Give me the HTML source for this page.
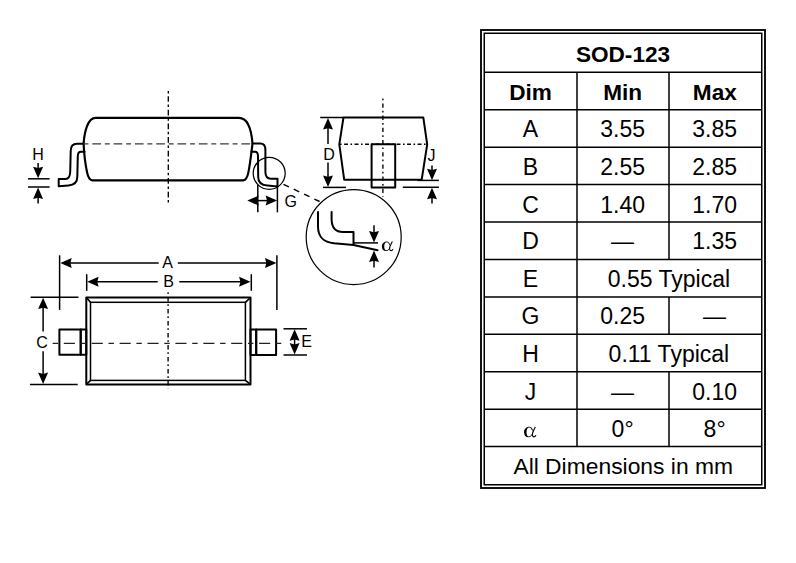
<!DOCTYPE html>
<html><head><meta charset="utf-8"><style>
html,body{margin:0;padding:0;background:#fff;width:796px;height:563px;overflow:hidden}
svg{display:block}
.tl{stroke:#000;stroke-width:1.5}
.s2{fill:none;stroke:#000;stroke-width:2;stroke-linejoin:round;stroke-linecap:round}
.s13{fill:none;stroke:#000;stroke-width:1.5}
.s12{fill:none;stroke:#000;stroke-width:1.2}
.ah{fill:#000;stroke:none}
.cl1{stroke:#3a3a3a;stroke-width:1.3;stroke-dasharray:4.9 3.85 8.7 3.85}
.cl1b{stroke:#222;stroke-width:1.3;stroke-dasharray:5.4 5.7 11.1 5.7}
.cl2{stroke:#000;stroke-width:1.35;stroke-dasharray:2.5 2.75 5.7 2.7}
.cl4{stroke:#000;stroke-width:1.35;stroke-dasharray:1.7 3.1 4.3 3.1}
.cl5{stroke:#000;stroke-width:1.35;stroke-dasharray:1.9 2.9 4.4 2.8}
.cl3{stroke:#000;stroke-width:1.35;stroke-dasharray:1.6 2.5 3.9 2.5}
.dl{stroke:#000;stroke-width:1.4;stroke-dasharray:6 5.4}
text{font-family:"Liberation Sans",sans-serif;fill:#000;text-anchor:middle}
.th{font-size:22.6px;font-weight:bold}
.tb{font-size:23px}
.ta{font-family:"Liberation Serif",serif;font-size:25px}
.lb{font-size:16px}
.la{font-family:"Liberation Serif",serif;font-size:19px}
</style></head><body>
<svg width="796" height="563" viewBox="0 0 796 563">
<rect x="481" y="30" width="284" height="458" fill="none" stroke="#000" stroke-width="1.85"/>
<rect x="484.25" y="33.25" width="277.5" height="451.5" fill="none" stroke="#000" stroke-width="1.5"/>
<line x1="484" x2="762" y1="72.30" y2="72.30" class="tl"/>
<line x1="484" x2="762" y1="109.73" y2="109.73" class="tl"/>
<line x1="484" x2="762" y1="147.16" y2="147.16" class="tl"/>
<line x1="484" x2="762" y1="184.59" y2="184.59" class="tl"/>
<line x1="484" x2="762" y1="222.02" y2="222.02" class="tl"/>
<line x1="484" x2="762" y1="259.45" y2="259.45" class="tl"/>
<line x1="484" x2="762" y1="296.88" y2="296.88" class="tl"/>
<line x1="484" x2="762" y1="334.31" y2="334.31" class="tl"/>
<line x1="484" x2="762" y1="371.74" y2="371.74" class="tl"/>
<line x1="484" x2="762" y1="409.17" y2="409.17" class="tl"/>
<line x1="484" x2="762" y1="446.60" y2="446.60" class="tl"/>
<line x1="577" x2="577" y1="72.30" y2="446.60" class="tl"/>
<line x1="669" x2="669" y1="72.30" y2="259.45" class="tl"/>
<line x1="669" x2="669" y1="296.88" y2="334.31" class="tl"/>
<line x1="669" x2="669" y1="371.74" y2="446.60" class="tl"/>
<text x="623.00" y="62.10" class="th">SOD-123</text>
<text x="530.50" y="100.01" class="th">Dim</text>
<text x="622.60" y="100.01" class="th">Min</text>
<text x="714.80" y="100.01" class="th">Max</text>
<text transform="translate(530.50 137.34) scale(1 1.000)" class="tb">A</text>
<text transform="translate(622.60 137.34) scale(1 1.000)" class="tb">3.55</text>
<text transform="translate(714.60 137.34) scale(1 1.000)" class="tb">3.85</text>
<text transform="translate(530.50 175.28) scale(1 1.000)" class="tb">B</text>
<text transform="translate(622.60 175.28) scale(1 1.000)" class="tb">2.55</text>
<text transform="translate(714.60 175.28) scale(1 1.000)" class="tb">2.85</text>
<text transform="translate(530.50 212.60) scale(1 1.000)" class="tb">C</text>
<text transform="translate(622.60 212.60) scale(1 1.000)" class="tb">1.40</text>
<text transform="translate(714.60 212.60) scale(1 1.000)" class="tb">1.70</text>
<text transform="translate(530.50 248.83) scale(1 1.000)" class="tb">D</text>
<text transform="translate(622.60 248.83) scale(1 1.000)" class="tb">&#8212;</text>
<text transform="translate(714.60 248.83) scale(1 1.000)" class="tb">1.35</text>
<text transform="translate(530.50 287.06) scale(1 1.000)" class="tb">E</text>
<text transform="translate(668.90 287.06) scale(1 1.000)" class="tb">0.55 Typical</text>
<text transform="translate(530.50 324.10) scale(1 1.000)" class="tb">G</text>
<text transform="translate(622.60 324.10) scale(1 1.000)" class="tb">0.25</text>
<text transform="translate(714.60 324.10) scale(1 1.000)" class="tb">&#8212;</text>
<text transform="translate(530.50 361.92) scale(1 1.000)" class="tb">H</text>
<text transform="translate(668.90 361.92) scale(1 1.000)" class="tb">0.11 Typical</text>
<text transform="translate(530.50 399.66) scale(1 1.000)" class="tb">J</text>
<text transform="translate(622.60 399.66) scale(1 1.000)" class="tb">&#8212;</text>
<text transform="translate(714.60 399.66) scale(1 1.000)" class="tb">0.10</text>
<g transform="translate(523.80 426.30) scale(0.1050)"><path fill="#000" fill-rule="evenodd" d="M52 4 C22 4 2 28 2 56 C2 86 20 104 44 104 C62 104 76 92 86 74 L84 54 C78 78 66 96 48 96 C34 96 26 80 26 56 C26 30 36 12 52 12 C66 12 76 30 82 48 L86 34 C78 16 68 4 52 4 Z"/><path fill="none" stroke="#000" stroke-width="11" d="M110 6 C96 32 84 56 82 74 C80 92 88 100 98 100 C106 100 112 94 116 86"/></g>
<text transform="translate(622.60 436.78) scale(1 1.000)" class="tb">0&#176;</text>
<text transform="translate(714.60 436.78) scale(1 1.000)" class="tb">8&#176;</text>
<text x="623.2" y="474.0" class="tb" style="font-size:22.85px">All Dimensions in mm</text>
<path class="s2" style="stroke-width:2.15" d="M95.5 117.85 L239 117.85 C248 117.85 251.5 131 252.5 143.6 C251 156 249.5 168 248 174 C247 178 246 180.3 243 180.3 L92.4 180.3 C89.5 180.3 88 177 87 172 C85.5 165 84 152 83.6 143.6 C84.5 131 88 117.85 95.5 117.85 Z"/>
<path class="s2" d="M83.8 143.75 L77 143.75 C72.5 143.75 70.7 146.8 70.7 151 L70.2 172 C70 176.5 68.5 178.9 65.5 178.9 L58.7 178.9 L58.7 186.2 L68.5 185.5 C74 185 77.3 183 77.3 177 L77.8 156 C77.9 153 79 151.7 81 151.7 L84.6 151.7"/>
<path class="s2" d="M252.6 143.6 L260.2 143.6 C264 143.6 265.4 146.5 265.4 150 L265.4 172 C265.5 176.5 267.3 178.7 270.8 178.7 L277.5 178.7 L277.5 186.4 L267.5 185.6 C261.8 185.2 258.2 183 258.2 177 L258 156 C257.9 153 257 151.8 255 151.8 L251.4 151.8"/>
<line class="cl1" x1="83.55" x2="252" y1="143.8" y2="143.8"/>
<line class="cl2" x1="168.3" x2="168.3" y1="90.9" y2="202.6"/>
<line class="s13" x1="28" x2="49.6" y1="178.8" y2="178.8"/>
<line class="s13" x1="28" x2="49.6" y1="187" y2="187"/>
<line class="s13" x1="38.1" x2="38.1" y1="163" y2="170"/>
<path class="ah" d="M38.10 178.20 L33.10 166.80 L38.10 168.10 L43.10 166.80 Z"/>
<line class="s13" x1="38.1" x2="38.1" y1="196" y2="203.6"/>
<path class="ah" d="M38.10 187.60 L33.10 199.00 L38.10 197.70 L43.10 199.00 Z"/>
<text x="38.05" y="159.50" class="lb">H</text>
<circle class="s12" cx="269.2" cy="173.3" r="16"/>
<line class="s13" x1="257.8" x2="257.8" y1="184.5" y2="212.3"/>
<line class="s13" x1="277.4" x2="277.4" y1="186" y2="212.3"/>
<line class="s13" x1="257.8" x2="270" y1="200.6" y2="200.6"/>
<path class="ah" d="M247.30 200.60 L258.70 195.60 L257.40 200.60 L258.70 205.60 Z"/>
<path class="ah" d="M277.10 200.60 L265.70 195.60 L267.00 200.60 L265.70 205.60 Z"/>
<text x="290.80" y="206.70" class="lb">G</text>
<line class="dl" x1="283.5" x2="319.6" y1="184.3" y2="201.5"/>
<path class="s2" d="M343.5 117.4 L423.3 117.4 L427.2 144.3 L421.7 179.7 L344.2 179.7 L339.3 144.3 Z"/>
<rect class="s2" x="371.6" y="144.3" width="23.6" height="43.1"/>
<line class="cl3" x1="340.0" x2="427" y1="144.2" y2="144.2"/>
<line class="cl4" x1="382.9" x2="382.9" y1="98.6" y2="197"/>
<line class="s13" x1="320.2" x2="343" y1="117.5" y2="117.5"/>
<line class="s13" x1="323" x2="346" y1="187.4" y2="187.4"/>
<line class="s13" x1="328" x2="328" y1="126" y2="144"/>
<line class="s13" x1="328" x2="328" y1="162.5" y2="178"/>
<path class="ah" d="M328.00 118.10 L323.00 129.50 L328.00 128.20 L333.00 129.50 Z"/>
<path class="ah" d="M328.00 186.90 L323.00 175.50 L328.00 176.80 L333.00 175.50 Z"/>
<text x="329.00" y="159.60" class="lb">D</text>
<line class="s13" x1="417.4" x2="438.9" y1="180.4" y2="180.4"/>
<line class="s13" x1="402.8" x2="438.9" y1="187.3" y2="187.3"/>
<line class="s13" x1="432" x2="432" y1="165.4" y2="172"/>
<path class="ah" d="M432.00 180.20 L427.00 168.80 L432.00 170.10 L437.00 168.80 Z"/>
<line class="s13" x1="432" x2="432" y1="196" y2="203.5"/>
<path class="ah" d="M432.00 187.80 L427.00 199.20 L432.00 197.90 L437.00 199.20 Z"/>
<text x="431.60" y="160.60" class="lb">J</text>
<circle class="s12" cx="353.7" cy="237.1" r="47.5"/>
<path class="s2" d="M318 212.1 L318 227 C318.3 237.5 323.5 242 334 243.3 L353.5 245 L377.6 250.2"/>
<path class="s2" d="M331.6 212.1 L331.6 219.5 C331.8 227.5 335.5 232 343 232 L353.5 232 L353.5 245"/>
<line class="s13" x1="353.5" x2="378" y1="242.9" y2="242.9"/>
<line class="s13" x1="374" x2="374" y1="225.3" y2="234"/>
<path class="ah" d="M374.00 242.40 L369.00 231.00 L374.00 232.30 L379.00 231.00 Z"/>
<line class="s13" x1="374" x2="374" y1="259" y2="267.5"/>
<path class="ah" d="M374.00 250.60 L369.00 262.00 L374.00 260.70 L379.00 262.00 Z"/>
<g transform="translate(381.70 241.00) scale(0.0970)"><path fill="#000" fill-rule="evenodd" d="M52 4 C22 4 2 28 2 56 C2 86 20 104 44 104 C62 104 76 92 86 74 L84 54 C78 78 66 96 48 96 C34 96 26 80 26 56 C26 30 36 12 52 12 C66 12 76 30 82 48 L86 34 C78 16 68 4 52 4 Z"/><path fill="none" stroke="#000" stroke-width="11" d="M110 6 C96 32 84 56 82 74 C80 92 88 100 98 100 C106 100 112 94 116 86"/></g>
<rect class="s2" x="86.3" y="297.5" width="164.2" height="86.9"/>
<rect class="s13" x="90.5" y="302.3" width="154.9" height="78.1"/>
<path class="s13" style="stroke-width:1.7" d="M86.3 297.5 L90.5 302.3 M250.5 297.5 L245.4 302.3 M86.3 384.4 L90.5 380.4 M250.5 384.4 L245.4 380.4"/>
<rect class="s2" x="59.4" y="329.4" width="21.3" height="25.4"/>
<rect class="s2" x="80.7" y="329.4" width="5.6" height="25.4"/>
<rect class="s2" x="256.2" y="329.4" width="19.9" height="25.5"/>
<rect class="s2" x="250.5" y="329.4" width="5.7" height="25.5"/>
<line class="cl1b" x1="52.7" x2="282" y1="343.3" y2="343.3"/>
<line class="cl5" x1="168.1" x2="168.1" y1="292.2" y2="388.5"/>
<line class="s13" x1="59.6" x2="59.6" y1="255.3" y2="309.9"/>
<line class="s13" x1="276.9" x2="276.9" y1="255.3" y2="309.9"/>
<line class="s13" x1="68" x2="158.7" y1="263.1" y2="263.1"/>
<line class="s13" x1="177.8" x2="268" y1="263.1" y2="263.1"/>
<path class="ah" d="M60.30 263.10 L71.70 258.10 L70.40 263.10 L71.70 268.10 Z"/>
<path class="ah" d="M276.40 263.10 L265.00 258.10 L266.30 263.10 L265.00 268.10 Z"/>
<text x="167.70" y="268.10" class="lb">A</text>
<line class="s13" x1="86.7" x2="86.7" y1="274.2" y2="290.8"/>
<line class="s13" x1="251.3" x2="251.3" y1="274.2" y2="290.8"/>
<line class="s13" x1="95" x2="157.7" y1="281.8" y2="281.8"/>
<line class="s13" x1="179.3" x2="242" y1="281.8" y2="281.8"/>
<path class="ah" d="M87.20 281.80 L98.60 276.80 L97.30 281.80 L98.60 286.80 Z"/>
<path class="ah" d="M250.50 281.80 L239.10 276.80 L240.40 281.80 L239.10 286.80 Z"/>
<text x="168.70" y="287.20" class="lb">B</text>
<line class="s13" x1="30.6" x2="78.5" y1="297.2" y2="297.2"/>
<line class="s13" x1="30" x2="77.7" y1="384.4" y2="384.4"/>
<line class="s13" x1="43.1" x2="43.1" y1="306" y2="331.4"/>
<line class="s13" x1="43.1" x2="43.1" y1="351.3" y2="376"/>
<path class="ah" d="M43.10 297.70 L38.10 309.10 L43.10 307.80 L48.10 309.10 Z"/>
<path class="ah" d="M43.10 384.00 L38.10 372.60 L43.10 373.90 L48.10 372.60 Z"/>
<text x="42.10" y="347.80" class="lb">C</text>
<line class="s13" x1="283.5" x2="307" y1="328.8" y2="328.8"/>
<line class="s13" x1="283.5" x2="307" y1="355" y2="355"/>
<line class="s13" x1="294.6" x2="294.6" y1="336" y2="348"/>
<path class="ah" d="M294.60 329.30 L289.60 340.70 L294.60 339.40 L299.60 340.70 Z"/>
<path class="ah" d="M294.60 354.50 L289.60 343.10 L294.60 344.40 L299.60 343.10 Z"/>
<text x="306.60" y="346.90" class="lb">E</text>
</svg>
</body></html>
